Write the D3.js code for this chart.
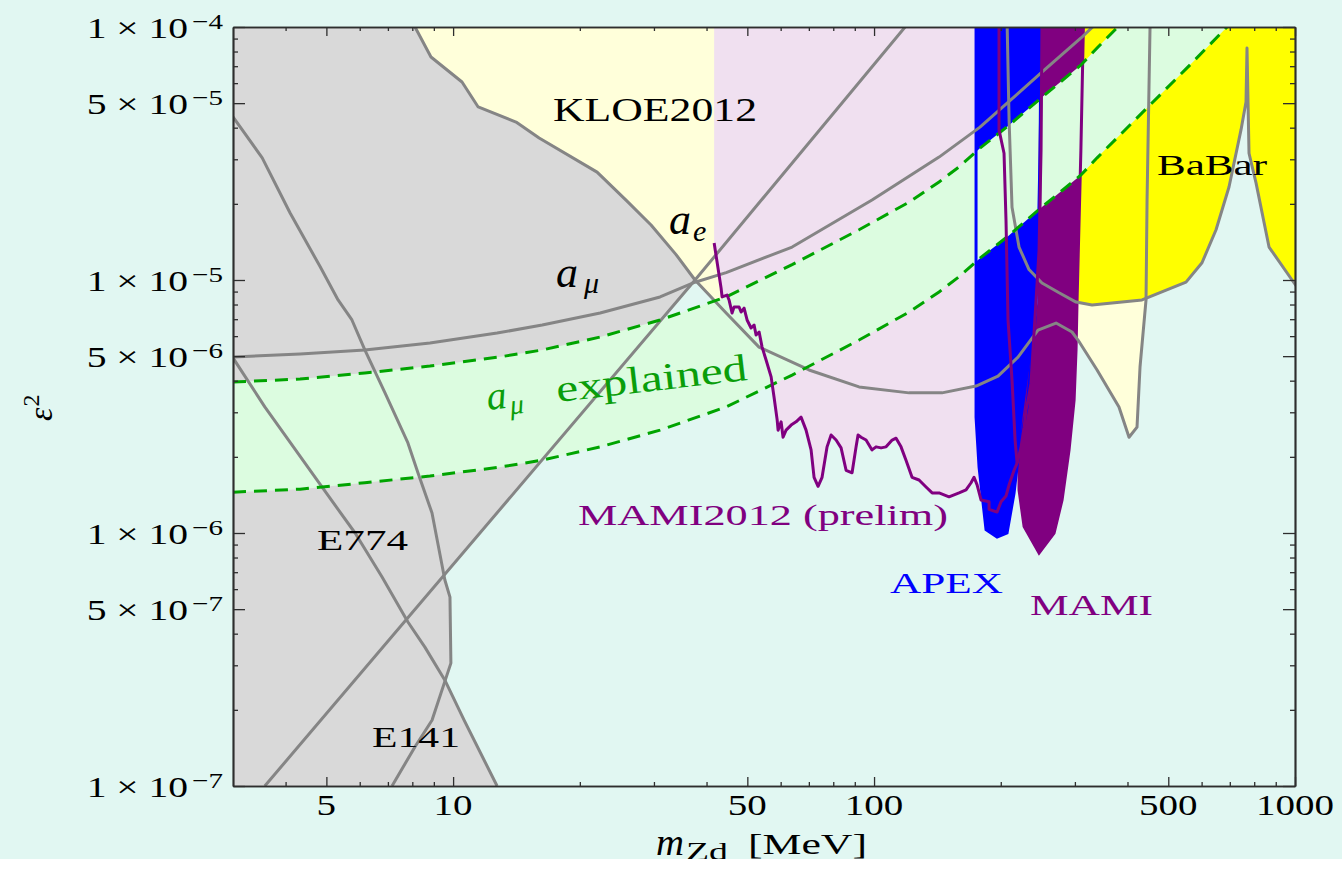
<!DOCTYPE html>
<html><head><meta charset="utf-8">
<script src="https://cdn.jsdelivr.net/npm/d3@7"></script>
<style>
html,body{margin:0;padding:0;background:#fff;}
svg{display:block;}
text{font-family:"Liberation Serif","Times New Roman",serif;}
</style></head><body>
<svg id="chart" width="1342" height="869"></svg>
<script>
// ---------------- data (m_Zd in MeV, epsilon^2) ----------------
const kloeCurve = [[8.12,1e-4],[8.86,7.61e-5],[10.50,6.06e-5],[11.47,4.83e-5],[14.11,4.21e-5],[16.01,3.64e-5],[21.98,2.67e-5],[25.75,2.07e-5],[29.53,1.65e-5],[33.86,1.26e-5],[37.56,1.0e-5],[44.53,7.41e-6],[53.30,5.43e-6],[70.07,4.41e-6],[92.13,3.78e-6],[121.1,3.58e-6],[145.0,3.58e-6],[174.7,3.81e-6],[197.0,4.17e-6],[219.8,4.96e-6],[245.2,6.34e-6],[270.6,6.76e-6],[295.3,6.23e-6],[305.2,5.79e-6],[338.7,4.41e-6],[381.8,3.15e-6],[403.4,2.39e-6],[421.4,2.62e-6],[428.4,4.53e-6],[442.7,8.34e-6],[445.2,2.07e-5],[452.5,1e-4]];
const kloeCross = 10; // index where KLOE curve meets the a_e line
const aeLine = [[3.57,1e-7],[37.56,1.0e-5],[118.5,1e-4]];
const amuLine = [[3,4.96e-6],[4.33,5.10e-6],[6.17,5.29e-6],[8.81,5.64e-6],[12.72,6.17e-6],[16.28,6.64e-6],[22.35,7.41e-6],[31.02,8.57e-6],[37.56,9.8e-6],[44.53,1.07e-5],[63.88,1.35e-5],[98.9,2.07e-5],[142.7,3.06e-5],[178.5,4.02e-5],[249.3,6.58e-5],[310.2,9.05e-5],[338.7,1.04e-4]];
const bandUpper = [[3,3.95e-6],[4.33,4.06e-6],[6.17,4.29e-6],[8.81,4.57e-6],[12.86,4.96e-6],[16.28,5.29e-6],[22.35,5.95e-6],[31.02,6.95e-6],[44.53,8.57e-6],[63.88,1.15e-5],[92.13,1.58e-5],[121.1,2.03e-5],[142.7,2.44e-5],[159.2,2.80e-5],[178.5,3.32e-5],[208.1,4.06e-5],[249.3,5.24e-5],[310.2,7.08e-5],[338.7,8.26e-5],[388.3,1.04e-4]];
const bandLower = [[3,1.45e-6],[4.33,1.49e-6],[6.17,1.58e-6],[8.81,1.68e-6],[12.86,1.82e-6],[16.28,1.94e-6],[22.35,2.19e-6],[31.02,2.55e-6],[44.53,3.15e-6],[63.88,4.21e-6],[92.13,5.79e-6],[121.1,7.47e-6],[142.7,8.97e-6],[159.2,1.03e-5],[178.5,1.22e-5],[208.1,1.49e-5],[249.3,1.93e-5],[310.2,2.60e-5],[338.7,3.04e-5],[452.5,4.92e-5],[554.0,6.89e-5],[689.5,1e-4],[736.2,1.12e-4]];
const e141 = [[3,4.41e-5],[3.52,3.04e-5],[4.10,1.84e-5],[4.83,1.13e-5],[5.33,8.34e-6],[5.75,6.95e-6],[6.17,5.29e-6],[6.89,3.58e-6],[7.81,2.27e-6],[8.25,1.73e-6],[8.91,1.20e-6],[9.56,6.52e-7],[9.83,5.58e-7],[9.88,3.06e-7],[8.91,1.82e-7],[8.12,1.43e-7],[7.16,1e-7]];
const e141Turn = 13;
const e774 = [[3,4.92e-6],[3.57,3.15e-6],[4.88,1.52e-6],[5.85,1.0e-6],[6.78,6.70e-7],[7.81,4.45e-7],[8.57,3.54e-7],[9.56,2.62e-7],[10.62,1.82e-7],[12.72,1e-7]];
const e774Cross = 7;
const babarCurve = [[207.0,1.06e-4],[209.3,4.29e-5],[212.7,1.94e-5],[221.0,1.35e-5],[233.4,1.10e-5],[250.6,9.73e-6],[275.1,8.90e-6],[301.9,8.18e-6],[329.5,7.96e-6],[433.1,8.34e-6],[551.0,9.81e-6],[601.3,1.17e-5],[649.3,1.58e-5],[697.0,2.33e-5],[744.2,3.92e-5],[764.9,5.05e-5],[769.1,8.26e-5],[773.4,5.05e-5],[777.6,3.17e-5],[808.0,2.42e-5],[867.6,1.35e-5],[983.8,1.0e-5],[1022,9.14e-6]];
const mami2012 = [[41.7,1.40e-5],[43.31,9.30e-6],[43.55,8.57e-6],[44.75,8.72e-6],[45.24,8.34e-6],[45.99,7.41e-6],[46.50,7.82e-6],[47.79,7.82e-6],[48.32,7.47e-6],[49.12,7.74e-6],[49.93,6.95e-6],[51.03,6.46e-6],[51.88,6.64e-6],[52.45,6.06e-6],[53.33,6.23e-6],[54.20,5.43e-6],[55.40,4.83e-6],[56.95,4.14e-6],[57.86,3.45e-6],[58.86,2.80e-6],[59.16,2.55e-6],[60.15,2.75e-6],[60.79,2.39e-6],[61.80,2.55e-6],[63.53,2.67e-6],[65.27,2.75e-6],[67.08,2.87e-6],[68.94,2.55e-6],[70.86,2.13e-6],[72.03,1.66e-6],[73.62,1.53e-6],[75.25,1.66e-6],[77.34,2.19e-6],[79.06,2.44e-6],[81.25,2.33e-6],[83.50,2.17e-6],[85.82,1.77e-6],[88.67,1.73e-6],[90.63,2.19e-6],[91.62,2.44e-6],[93.14,2.39e-6],[95.72,2.33e-6],[98.90,2.13e-6],[101.1,2.19e-6],[103.9,2.17e-6],[106.8,2.19e-6],[110.4,2.33e-6],[112.8,2.37e-6],[115.9,2.19e-6],[119.1,1.94e-6],[123.1,1.66e-6],[127.9,1.62e-6],[132.9,1.52e-6],[137.4,1.44e-6],[142.7,1.44e-6],[150.7,1.39e-6],[159.2,1.44e-6],[165.4,1.48e-6],[170.0,1.58e-6],[172.8,1.66e-6],[175.7,1.55e-6],[179.6,1.35e-6],[187.6,1.33e-6],[187.6,1.24e-6],[196.0,1.21e-6],[200.3,1.33e-6],[205.8,1.40e-6],[209.3,1.55e-6],[215.1,1.77e-6],[218.7,1.89e-6],[223.5,2.19e-6],[227.2,2.62e-6],[229.6,3.06e-6],[232.2,3.35e-6],[236.0,3.91e-6],[239.9,6.17e-6],[242.6,8.34e-6],[246.6,1.31e-5],[249.3,3.26e-5],[250.6,1.06e-4]];
const mami2012b = [[198.1,1.06e-4],[198.1,3.92e-5],[203.6,3.17e-5],[205.8,1.73e-5],[208.1,6.95e-6],[212.7,4.02e-6],[216.3,2.33e-6],[218.7,1.89e-6]];
const apexRegion = [[174.7,1.06e-4],[174.7,2.87e-6],[177.6,1.82e-6],[184.5,1.03e-6],[196.0,9.64e-7],[207.0,1.0e-6],[215.1,1.44e-6],[221.0,2.13e-6],[230.9,3.15e-6],[239.9,6.17e-6],[242.6,8.34e-6],[245.3,1.31e-5],[248.0,3.26e-5],[249.3,1.06e-4]];
const mamiRegion = [[250.6,1.06e-4],[248.0,3.26e-5],[246.6,8.34e-6],[242.6,6.17e-6],[236.0,4.53e-6],[227.2,2.87e-6],[221.0,1.82e-6],[221.0,1.48e-6],[227.2,1.06e-6],[246.6,8.34e-7],[267.7,1.0e-6],[279.7,1.35e-6],[290.6,2.13e-6],[298.7,3.35e-6],[301.9,5.29e-6],[303.6,8.34e-6],[310.0,3.26e-5],[314.5,1.06e-4]];
const mami2012Left = 41.7;   // left edge of the MAMI2012 shaded region (MeV)
const pinkRight = 185;       // region continues under APEX

const xTickValues = [5,10,50,100,500,1000];
const xTickLabels = ["5","10","50","100","500","1000"];
const xMinorValues = [4,6,7,8,9,20,30,40,60,70,80,90,200,300,400,600,700,800,900];
const yTickValues = [1e-4,5e-5,1e-5,5e-6,1e-6,5e-7,1e-7];
const yTickMant = ["1","5","1","5","1","5","1"];
const yTickExp = ["\u22124","\u22125","\u22125","\u22126","\u22126","\u22127","\u22127"];
const yMinorValues = [2e-5,3e-5,4e-5,6e-5,7e-5,8e-5,9e-5,2e-6,3e-6,4e-6,6e-6,7e-6,8e-6,9e-6,2e-7,3e-7,4e-7,6e-7,7e-7,8e-7,9e-7];

// ---------------- drawing ----------------
const W=1342,H=869;
const X0=233,X1=1295,Y0=27,Y1=786;
const svg=d3.select('#chart');
const x=d3.scaleLog().domain([3,1000]).range([X0,X1]);
const y=d3.scaleLog().domain([1e-7,1e-4]).range([Y1,Y0]);
const line=d3.line().x(d=>x(d[0])).y(d=>y(d[1]));
const poly=pts=>line(pts)+'Z';

svg.append('rect').attr('width',W).attr('height',H).attr('fill','#e1f7f2');
svg.append('clipPath').attr('id','pc').append('rect').attr('x',X0).attr('y',Y0).attr('width',X1-X0).attr('height',Y1-Y0);
const g=svg.append('g').attr('clip-path','url(#pc)');

const TOP=1.06e-4;
// KLOE region (above its curve)
g.append('path').attr('d',poly(kloeCurve)).attr('fill','#ffffda');
// grey excluded region (a_e, E774, E141)
const greyA=[[3,TOP]].concat(kloeCurve.slice(0,kloeCross+1),[aeLine[0],[3,1e-7]]);
const greyB=e141.slice(0,e141Turn+1).concat(e774.slice(e774Cross),[[3,1e-7]]);
g.append('path').attr('d',poly(greyA)).attr('fill','#d9d9d9');
g.append('path').attr('d',poly(greyB)).attr('fill','#d9d9d9');
// MAMI2012 region
const pink=[[mami2012Left,TOP]].concat(mami2012.filter(d=>d[0]<=pinkRight),[[pinkRight,TOP]]);
g.append('path').attr('d',poly(pink)).attr('fill','#f0e0f0');
// BaBar
const babarFill=[[300,TOP],[300,8.18e-6]].concat(babarCurve.filter(d=>d[0]>=300),[[1022,TOP]]);
g.append('path').attr('d',poly(babarFill)).attr('fill','#ffff00');
// APEX & MAMI
g.append('path').attr('d',poly(apexRegion)).attr('fill','#0000ff');
g.append('path').attr('d',poly(mamiRegion)).attr('fill','#800080');
// a_mu explained band
g.append('path').attr('d',poly(bandUpper.concat(bandLower.slice().reverse()))).attr('fill','#dcfce0');
// outlines
g.append('path').attr('d',poly(mamiRegion)).attr('fill','none').attr('stroke','#800080').attr('stroke-width',3);
g.append('path').attr('d',poly(apexRegion)).attr('fill','none').attr('stroke','#0000ff').attr('stroke-width',3);
// grey curves
[kloeCurve,aeLine,amuLine,e141,e774,babarCurve].forEach(c=>{
  g.append('path').attr('d',line(c)).attr('fill','none').attr('stroke','#858585')
   .attr('stroke-width',3).attr('stroke-linejoin','round');
});
// dashed band edges
[bandUpper,bandLower].forEach(c=>{
  g.append('path').attr('d',line(c)).attr('fill','none').attr('stroke','#00a400')
   .attr('stroke-width',3).attr('stroke-dasharray','13,8');
});
// MAMI2012 limit
[mami2012,mami2012b].forEach(c=>{
  g.append('path').attr('d',line(c)).attr('fill','none').attr('stroke','#800080')
   .attr('stroke-width',3).attr('stroke-linejoin','round');
});

// ---------------- axes ----------------
function styleAxis(sel){
  sel.select('.domain').attr('stroke','#2e2e2e').attr('stroke-width',1.7);
  sel.selectAll('.tick line').attr('stroke','#2e2e2e').attr('stroke-width',1.3);
  sel.selectAll('.tick text').remove();
}
const ax=svg.append('g');
[[d3.axisBottom,Y1],[d3.axisTop,Y0]].forEach(([f,ty])=>{
  ax.append('g').attr('transform',`translate(0,${ty})`).call(f(x).tickValues(xTickValues).tickSize(-9).tickSizeOuter(0).tickFormat(()=>'')).call(styleAxis);
  ax.append('g').attr('transform',`translate(0,${ty})`).call(f(x).tickValues(xMinorValues).tickSize(-4).tickSizeOuter(0).tickFormat(()=>'')).call(styleAxis);
});
[[d3.axisLeft,X0],[d3.axisRight,X1]].forEach(([f,tx])=>{
  ax.append('g').attr('transform',`translate(${tx},0)`).call(f(y).tickValues(yTickValues).tickSize(-12).tickSizeOuter(0).tickFormat(()=>'')).call(styleAxis);
  ax.append('g').attr('transform',`translate(${tx},0)`).call(f(y).tickValues(yMinorValues).tickSize(-5).tickSizeOuter(0).tickFormat(()=>'')).call(styleAxis);
});

// ---------------- text ----------------
function label(parent,str,px,py,o={}){
  const t=parent.append('text').attr('x',px).attr('y',py).text(str)
    .attr('font-size',o.size||30).attr('fill',o.color||'#000');
  if(o.italic) t.attr('font-style','italic');
  if(o.anchor) t.attr('text-anchor',o.anchor);
  if(o.width) t.attr('textLength',o.width).attr('lengthAdjust','spacingAndGlyphs');
  return t;
}
const tg=svg.append('g');
xTickValues.forEach((v,i)=>{
  label(tg,xTickLabels[i],x(v),815,{anchor:'middle',size:30,width:xTickLabels[i].length*19.5});
});
yTickValues.forEach((v,i)=>{
  const gg=tg.append('g').attr('transform',`translate(223,${y(v)+11}) scale(1.32,1)`);
  const t=gg.append('text').attr('text-anchor','end').attr('font-size',30);
  t.append('tspan').text(yTickMant[i]+' \u00d7 10');
  t.append('tspan').attr('font-size',22).attr('dx',3).attr('dy',-9).text(yTickExp[i]);
});
// axis titles
label(tg,'m',656,855,{italic:true,size:38,width:28});
label(tg,'Zd',686,860,{size:26,width:42});
label(tg,'[MeV]',748,854,{size:30,width:119});
const yt=tg.append('g').attr('transform','translate(52,421) rotate(-90)');
const ytt=yt.append('text').attr('font-size',34);
ytt.append('tspan').attr('font-style','italic').text('\u03b5');
ytt.append('tspan').attr('font-size',24).attr('dx',1).attr('dy',-13).text('2');

// region labels
label(tg,'KLOE2012',553,121,{size:33,width:204});
label(tg,'BaBar',1157,175,{size:30,width:110});
label(tg,'MAMI2012 (prelim)',578,525,{size:30,width:370,color:'#800080'});
label(tg,'APEX',890,593,{size:30,width:113,color:'#0000ff'});
label(tg,'MAMI',1030,615,{size:30,width:123,color:'#800080'});
label(tg,'E774',317,550,{size:30,width:91});
label(tg,'E141',372,747,{size:30,width:88});
label(tg,'a',669,234,{italic:true,size:44});
label(tg,'e',693,241,{italic:true,size:30});
label(tg,'a',556,287,{italic:true,size:44});
label(tg,'\u03bc',584,293,{italic:true,size:30});
const gl=tg.append('g').attr('transform','translate(488,410) rotate(-6.6)');
label(gl,'a',0,0,{italic:true,size:40,color:'#0a9e0a'});
label(gl,'\u03bc',22,7,{italic:true,size:28,color:'#0a9e0a'});
label(gl,'explained',70,0,{size:38,width:192,color:'#0a9e0a'});

// white strip at bottom of the image
svg.append('rect').attr('x',0).attr('y',859).attr('width',W).attr('height',H-859).attr('fill','#fff');
</script>
</body></html>
